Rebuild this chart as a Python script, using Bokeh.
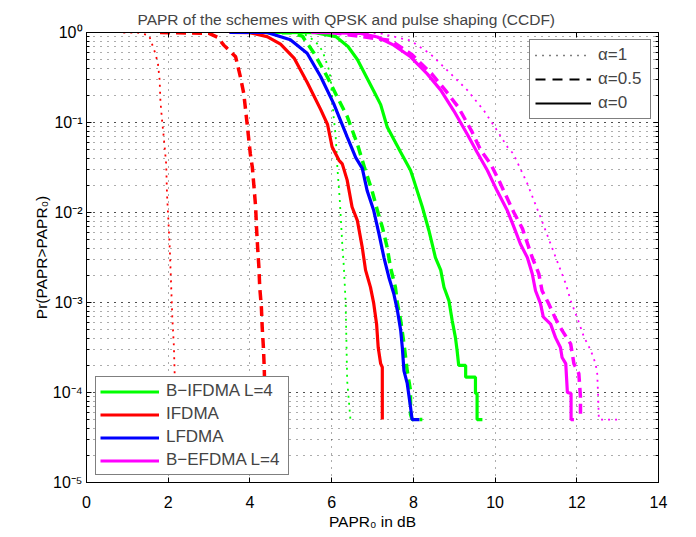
from bokeh.plotting import figure
from bokeh.models import (Legend, LegendItem, LinearAxis, LogAxis, FixedTicker,
                          LogTicker, CustomJSTickFormatter)
from bokeh.embed import file_html
from bokeh.resources import INLINE

# ---------------- data ----------------
# IFDMA (red)
x_if1 = [0.9, 1.24, 1.53, 1.69, 1.75, 1.79, 1.81, 1.85, 1.89, 1.95, 1.97, 2.0, 2.04, 2.07, 2.1, 2.14, 2.16, 2.2]
y_if1 = [1, 1, 0.93, 0.575, 0.447, 0.295, 0.17, 0.105, 0.0692, 0.0347, 0.0162, 0.00891, 0.0038, 0.00162, 0.000692, 0.000316, 0.000148, 0.00005]
x_if05 = [1.8, 3.0, 3.2, 3.36, 3.65, 3.77, 3.85, 3.93, 4.01, 4.06, 4.1, 4.14, 4.16, 4.19, 4.22, 4.24, 4.28, 4.3, 4.33, 4.35, 4.38]
y_if05 = [1, 0.98, 0.89, 0.724, 0.537, 0.316, 0.209, 0.0977, 0.0447, 0.0316, 0.0191, 0.0115, 0.00692, 0.00398, 0.00245, 0.00148, 0.000891, 0.000537, 0.000316, 0.000191, 0.00005]
x_if0 = [3.5, 4.0, 4.42, 4.75, 5.08, 5.4, 5.73, 5.9, 6.01, 6.18, 6.26, 6.38, 6.5, 6.63, 6.75, 6.83, 6.95, 7.03, 7.1, 7.14, 7.2, 7.24, 7.24]
y_if0 = [1, 0.995, 0.9, 0.741, 0.52, 0.28, 0.14, 0.095, 0.0537, 0.038, 0.0347, 0.0229, 0.0115, 0.00813, 0.00407, 0.00229, 0.00148, 0.000977, 0.000575, 0.000316, 0.000209, 0.000191, 0.00005]
# LFDMA (blue)
x_lf0 = [3.5, 4.42, 4.99, 5.4, 5.73, 6.05, 6.38, 6.59, 6.75, 6.87, 7.03, 7.16, 7.28, 7.4, 7.52, 7.61, 7.69, 7.73, 7.77, 7.85, 7.93, 7.97, 8.15]
y_lf0 = [1, 1, 0.832, 0.589, 0.324, 0.162, 0.0692, 0.0407, 0.0309, 0.0174, 0.0105, 0.00575, 0.00316, 0.00191, 0.00126, 0.000813, 0.00049, 0.000316, 0.000174, 0.000126, 0.0000692, 0.00005, 0.00005]
# B-IFDMA L=4 (green)
x_bi1 = [4.5, 5.3, 5.6, 5.77, 5.85, 5.93, 5.97, 6.05, 6.1, 6.14, 6.2, 6.26, 6.3, 6.34, 6.36, 6.38, 6.46]
y_bi1 = [1, 0.98, 0.8, 0.63, 0.5, 0.39, 0.32, 0.115, 0.0692, 0.0316, 0.0135, 0.00447, 0.00245, 0.00105, 0.000407, 0.000135, 0.00005]
x_bi05 = [4.0, 5.0, 5.28, 5.57, 5.89, 6.14, 6.38, 6.63, 6.81, 6.99, 7.12, 7.24, 7.36, 7.44, 7.56, 7.61, 7.69, 7.77, 7.85, 7.93, 7.93, 7.97, 8.22]
y_bi05 = [1, 0.995, 0.912, 0.589, 0.324, 0.191, 0.117, 0.0575, 0.0309, 0.0174, 0.0105, 0.00692, 0.00407, 0.00245, 0.00148, 0.000977, 0.000631, 0.000347, 0.000174, 0.000105, 0.0000575, 0.00005, 0.00005]
x_bi0 = [4.5, 5.6, 6.1, 6.4, 6.63, 7.03, 7.2, 7.36, 7.69, 7.93, 8.01, 8.22, 8.38, 8.54, 8.67, 8.75, 8.87, 8.95, 9.03, 9.07, 9.11, 9.28, 9.28, 9.52, 9.52, 9.56, 9.56, 9.69]
y_bi0 = [1, 0.995, 0.9, 0.7, 0.501, 0.224, 0.158, 0.0891, 0.0468, 0.0295, 0.0229, 0.0115, 0.00631, 0.00316, 0.00229, 0.00148, 0.00105, 0.000631, 0.000407, 0.000295, 0.0002, 0.0002, 0.000148, 0.000148, 0.0000977, 0.0000977, 0.00005, 0.00005]
# B-EFDMA L=4 (magenta)
x_be1 = [6.0, 7.2, 7.93, 8.42, 8.83, 9.32, 9.73, 10.05, 10.3, 10.45, 10.79, 11.11, 11.36, 11.56, 11.73, 11.85, 12.05, 12.17, 12.34, 12.46, 12.5, 12.52, 12.54, 13.03]
y_be1 = [1, 0.977, 0.813, 0.575, 0.38, 0.229, 0.135, 0.0813, 0.0537, 0.0447, 0.0209, 0.00891, 0.00447, 0.00257, 0.00162, 0.00105, 0.000603, 0.00042, 0.000295, 0.000209, 0.000162, 0.0000977, 0.00005, 0.00005]
x_be05 = [6.0, 7.45, 7.95, 8.45, 8.78, 9.1, 9.42, 9.65, 9.89, 10.09, 10.46, 10.67, 10.91, 11.07, 11.15, 11.31, 11.48, 11.64, 11.85, 11.93, 12.05, 12.09, 12.09]
y_be05 = [1, 0.813, 0.575, 0.347, 0.229, 0.148, 0.0813, 0.049, 0.0347, 0.0229, 0.01, 0.00661, 0.00316, 0.00209, 0.00135, 0.000977, 0.000661, 0.00049, 0.000347, 0.000209, 0.000162, 0.0000891, 0.00005]
x_be0 = [5.5, 6.71, 7.12, 7.52, 7.93, 8.34, 8.67, 8.99, 9.32, 9.56, 9.81, 10.05, 10.3, 10.46, 10.62, 10.79, 10.91, 10.99, 11.11, 11.18, 11.36, 11.48, 11.6, 11.64, 11.73, 11.77, 11.86, 11.86, 11.93]
y_be0 = [1, 0.977, 0.891, 0.724, 0.537, 0.347, 0.229, 0.135, 0.0741, 0.0468, 0.0295, 0.0174, 0.0105, 0.00692, 0.00447, 0.00316, 0.00209, 0.00135, 0.000977, 0.000692, 0.000575, 0.000407, 0.000316, 0.000245, 0.000209, 0.0001, 0.0000977, 0.00005, 0.00005]

scheme_labels = ["B\u2212IFDMA L=4", "IFDMA", "LFDMA", "B\u2212EFDMA L=4"]
alpha_labels = ["\u03b1=1", "\u03b1=0.5", "\u03b1=0"]
x_ticks = [0, 2, 4, 6, 8, 10, 12, 14]

FONT = "Liberation Sans"
GREEN, RED, BLUE, MAG = "#00ff00", "#ff0000", "#0000ff", "#ff00ff"
DOT, DASH = "2 5", "10 6"

p = figure(frame_width=572, frame_height=450, x_range=(0, 14), y_range=(1e-5, 1),
           y_axis_type="log", output_backend="svg", toolbar_location=None,
           min_border_left=86, min_border_right=36, min_border_top=32, min_border_bottom=53,
           background_fill_color="white", border_fill_color="white")

p.title.text = "PAPR of the schemes with QPSK and pulse shaping (CCDF)"
p.title.text_font = FONT
p.title.text_font_size = "15.5px"
p.title.text_font_style = "normal"
p.title.align = "left"
p.title.offset = 51
p.title.standoff = 10

p.outline_line_color = "black"
p.outline_line_width = 1

# axes
xa = p.xaxis[0]
xa.ticker = FixedTicker(ticks=x_ticks)
xa.axis_label = "PAPR\u2080 in dB"
ya = p.yaxis[0]
ya.axis_label = "Pr(PAPR>PAPR\u2080)"
ya.ticker = LogTicker(num_minor_ticks=10)
ya.formatter = CustomJSTickFormatter(code="""
const e = Math.round(Math.log10(tick));
const m = {"0":"\u2070","1":"\u00b9","2":"\u00b2","3":"\u00b3","4":"\u2074","5":"\u2075","6":"\u2076","7":"\u2077","8":"\u2078","9":"\u2079","-":"\u207b"};
let s = "";
for (const c of String(e)) { s += m[c]; }
return "10" + s;
""")
for ax in (xa, ya):
    ax.axis_line_color = "black"
    ax.major_tick_in = 5
    ax.major_tick_out = 0
    ax.major_tick_line_color = "black"
    ax.minor_tick_in = 3
    ax.minor_tick_out = 0
    ax.minor_tick_line_color = "black"
    ax.major_label_text_font = FONT
    ax.major_label_text_font_size = "16px"
    ax.major_label_text_color = "black"
    ax.axis_label_text_font = FONT
    ax.axis_label_text_font_size = "15.5px"
    ax.axis_label_text_font_style = "normal"
    ax.axis_label_text_color = "black"
xa.minor_tick_line_color = None
xa.major_label_standoff = 13
xa.axis_label_standoff = 2
ya.major_label_standoff = 4
ya.axis_label_standoff = 0

top = LinearAxis(ticker=FixedTicker(ticks=x_ticks), formatter=CustomJSTickFormatter(code="return '';"),
                 major_label_standoff=0, major_tick_in=5, major_tick_out=0,
                 minor_tick_line_color=None, axis_line_color="black")
right = LogAxis(ticker=LogTicker(num_minor_ticks=10), formatter=CustomJSTickFormatter(code="return '';"),
                major_label_standoff=0, major_tick_in=5, major_tick_out=0,
                minor_tick_in=3, minor_tick_out=0, axis_line_color="black")
p.add_layout(top, "above")
p.add_layout(right, "right")

# grid
for g in (p.xgrid, p.ygrid):
    g.grid_line_color = "black"
    g.grid_line_alpha = 0.65
    g.grid_line_dash = "1 6"
p.xgrid.ticker = FixedTicker(ticks=x_ticks[1:-1])
p.ygrid.minor_grid_line_color = "black"
p.ygrid.minor_grid_line_alpha = 0.65
p.ygrid.minor_grid_line_dash = "1 6"

# curves: alpha = 1 (dotted), 0.5 (dashed), 0 (solid)
p.line(x_bi1, y_bi1, line_color=GREEN, line_width=1.8, line_dash=DOT)
p.line(x_if1, y_if1, line_color=RED, line_width=1.8, line_dash=DOT)
p.line(x_be1, y_be1, line_color=MAG, line_width=1.8, line_dash=DOT)
p.line(x_bi05, y_bi05, line_color=GREEN, line_width=3.5, line_dash=DASH)
p.line(x_if05, y_if05, line_color=RED, line_width=3.5, line_dash=DASH)
p.line(x_be05, y_be05, line_color=MAG, line_width=3.5, line_dash=DASH)
r_bi = p.line(x_bi0, y_bi0, line_color=GREEN, line_width=3.2)
r_if = p.line(x_if0, y_if0, line_color=RED, line_width=3.2)
r_lf = p.line(x_lf0, y_lf0, line_color=BLUE, line_width=3.2)
r_be = p.line(x_be0, y_be0, line_color=MAG, line_width=3.2)

# legend swatches for the roll-off factor (single-point lines draw nothing in the plot)
k1 = p.line(x_be1[-1:], y_be1[-1:], line_color="black", line_width=1.5, line_dash="1 6")
k05 = p.line(x_be1[-1:], y_be1[-1:], line_color="black", line_width=2, line_dash="10 7")
k0 = p.line(x_be1[-1:], y_be1[-1:], line_color="black", line_width=2)

leg1 = Legend(items=[LegendItem(label=scheme_labels[i], renderers=[r])
                     for i, r in enumerate([r_bi, r_if, r_lf, r_be])],
              location=(9, 7), border_line_color="black", border_line_width=1,
              background_fill_color="white", background_fill_alpha=1.0,
              label_text_font=FONT, label_text_font_size="17px",
              glyph_width=59, glyph_height=19, label_height=19, label_width=118,
              label_standoff=7, spacing=3, padding=4, margin=0)
leg2 = Legend(items=[LegendItem(label=alpha_labels[i], renderers=[r])
                     for i, r in enumerate([k1, k05, k0])],
              location=(443, 363), border_line_color="black", border_line_width=1,
              background_fill_color="white", background_fill_alpha=1.0,
              label_text_font=FONT, label_text_font_size="17px",
              glyph_width=56, glyph_height=20, label_height=20, label_width=47,
              label_standoff=7, spacing=4, padding=5, margin=0)
p.add_layout(leg1)
p.add_layout(leg2)

open("out.html", "w").write(file_html(p, INLINE))
